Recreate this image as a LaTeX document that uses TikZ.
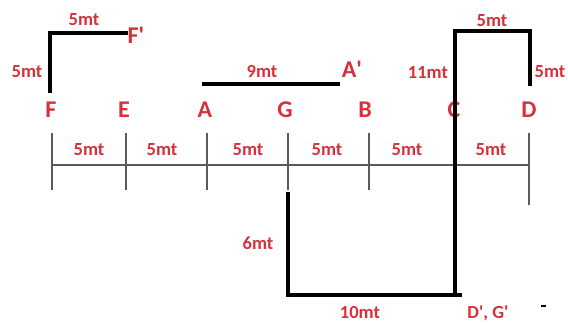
\documentclass[tikz,border=0pt]{standalone}
\usepackage{fontspec}
\setmainfont{Carlito}
\definecolor{lblred}{RGB}{214,48,58}
\definecolor{axisgray}{RGB}{90,90,90}
\tikzset{
  letter/.style={text=lblred, font=\fontsize{24}{24}\selectfont\bfseries, inner sep=0pt},
  dim/.style={text=lblred, font=\fontsize{18.5}{18.5}\selectfont\bfseries, inner sep=0pt},
  thickline/.style={line width=4pt, black, line cap=butt, line join=miter},
  axisline/.style={line width=1.3pt, axisgray},
  tickline/.style={line width=1.1pt, axisgray}
}
\begin{document}
\begin{tikzpicture}[x=1pt,y=-1pt]
\useasboundingbox (0,0) rectangle (568,323);
% axis
\coordinate (axL) at (52,165);
\coordinate (axR) at (529,165);
\draw[axisline] (axL) -- (axR);
% ticks
\foreach \n/\x/\b in {tF/52/190, tE/126/190, tA/207/190, tG/288/190, tB/369/190, tC/454/190, tD/529/205}{
  \coordinate (\n top) at (\x,133);
  \coordinate (\n bot) at (\x,\b);
  \draw[tickline] (\n top) -- (\n bot);
}
% letters
\node[letter] (F) at (51,110) {F};
\node[letter] (E) at (124,110) {E};
\node[letter] (A) at (205,110) {A};
\node[letter] (G) at (285,110) {G};
\node[letter] (B) at (365,110) {B};
\node[letter] (C) at (454,110) {C};
\node[letter] (D) at (529,110) {D};
\node[letter] (Fp) at (136,35) {F\textquotesingle};
\node[letter] (Ap) at (352,69) {A\textquotesingle};
% axis dimensions
\node[dim] (d1) at (89,150) {5mt};
\node[dim] (d2) at (162,150) {5mt};
\node[dim] (d3) at (248,150) {5mt};
\node[dim] (d4) at (327,150) {5mt};
\node[dim] (d5) at (407,150) {5mt};
\node[dim] (d6) at (491,150) {5mt};
% other dimensions
\node[dim] (dFt) at (84,20) {5mt};
\node[dim] (dFl) at (27,72) {5mt};
\node[dim] (dA) at (262,72) {9mt};
\node[dim] (dC) at (428,73) {11mt};
\node[dim] (dCt) at (492,21) {5mt};
\node[dim] (dD) at (550,72) {5mt};
\node[dim] (dG) at (258,243) {6mt};
\node[dim] (dGb) at (360,313) {10mt};
\node[dim] (DG) at (488,313) {D\textquotesingle, G\textquotesingle};
% F path
\coordinate (F1) at (50,93);
\coordinate (F2) at (50,33);
\coordinate (F3) at (128,33);
\draw[thickline] (F1) -- (F2) -- (F3);
% A path
\coordinate (A1) at (202,84);
\coordinate (A2) at (340,84);
\draw[line width=3.5pt] (A1) -- (A2);
% big path
\coordinate (P1) at (288,192);
\coordinate (P2) at (288,295);
\coordinate (P3) at (455,295);
\coordinate (P4) at (455,31);
\coordinate (P5) at (530,31);
\coordinate (P6) at (530,86);
\draw[thickline] (P1) -- (P2) -- (P3) -- (P4) -- (P5) -- (P6);
\coordinate (P3b) at (462,295);
\draw[thickline] (P3) -- (P3b);
% small dash
\coordinate (s1) at (541,306);
\coordinate (s2) at (546,306);
\draw[line width=2.5pt] (s1) -- (s2);
\end{tikzpicture}
\end{document}
